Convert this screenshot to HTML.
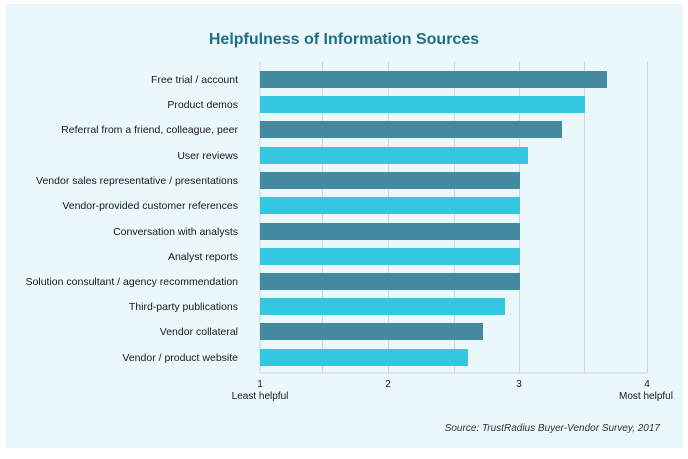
<!DOCTYPE html>
<html><head><style>
body{margin:0;width:688px;height:459px;background:#fff;font-family:"Liberation Sans",sans-serif;position:relative;overflow:hidden}
.panel{position:absolute;left:6px;top:4px;width:677px;height:444px;background:#eaf7fb}
.t{position:absolute;font-size:10.5px;color:#1a1a1a;white-space:nowrap}
</style></head><body>
<div class="panel"></div>
<svg width="688" height="459" style="position:absolute;left:0;top:0" font-family="Liberation Sans, sans-serif">
<text x="344" y="44" text-anchor="middle" font-size="16" font-weight="bold" fill="#1f6f8b">Helpfulness of Information Sources</text>
<g stroke="#cfd8dc" stroke-width="1">
<line x1="260" y1="62" x2="260" y2="373"/><line x1="322.5" y1="62" x2="322.5" y2="373"/><line x1="388.5" y1="62" x2="388.5" y2="373"/><line x1="454.5" y1="62" x2="454.5" y2="373"/><line x1="519.5" y1="62" x2="519.5" y2="373"/><line x1="584.5" y1="62" x2="584.5" y2="373"/><line x1="647.5" y1="62" x2="647.5" y2="373"/>
<line x1="260" y1="373" x2="647" y2="373"/>
</g>
<g>
<rect x="260" y="71" width="347" height="17" fill="#438aa0"/>
<rect x="260" y="96" width="325" height="17" fill="#35c6e0"/>
<rect x="260" y="121" width="302" height="17" fill="#438aa0"/>
<rect x="260" y="147" width="268" height="17" fill="#35c6e0"/>
<rect x="260" y="172" width="260" height="17" fill="#438aa0"/>
<rect x="260" y="197" width="260" height="17" fill="#35c6e0"/>
<rect x="260" y="223" width="260" height="17" fill="#438aa0"/>
<rect x="260" y="248" width="260" height="17" fill="#35c6e0"/>
<rect x="260" y="273" width="260" height="17" fill="#438aa0"/>
<rect x="260" y="298" width="245" height="17" fill="#35c6e0"/>
<rect x="260" y="323" width="223" height="17" fill="#438aa0"/>
<rect x="260" y="349" width="208" height="17" fill="#35c6e0"/>
</g>
<g font-size="10.5" fill="#1a1a1a" text-anchor="end">
<text x="238" y="83">Free trial / account</text>
<text x="238" y="108">Product demos</text>
<text x="238" y="133">Referral from a friend, colleague, peer</text>
<text x="238" y="159">User reviews</text>
<text x="238" y="184">Vendor sales representative / presentations</text>
<text x="238" y="209">Vendor-provided customer references</text>
<text x="238" y="235">Conversation with analysts</text>
<text x="238" y="260">Analyst reports</text>
<text x="238" y="285">Solution consultant / agency recommendation</text>
<text x="238" y="310">Third-party publications</text>
<text x="238" y="335">Vendor collateral</text>
<text x="238" y="361">Vendor / product website</text>
</g>
<g font-size="10" fill="#1a1a1a" text-anchor="middle">
<text x="260" y="387">1</text><text x="388" y="387">2</text><text x="519" y="387">3</text><text x="647" y="387">4</text>
<text x="260" y="399">Least helpful</text><text x="646" y="399">Most helpful</text>
</g>
<text x="660" y="431" text-anchor="end" font-size="10" font-style="italic" fill="#333">Source: TrustRadius Buyer-Vendor Survey, 2017</text>
</svg>
</body></html>
